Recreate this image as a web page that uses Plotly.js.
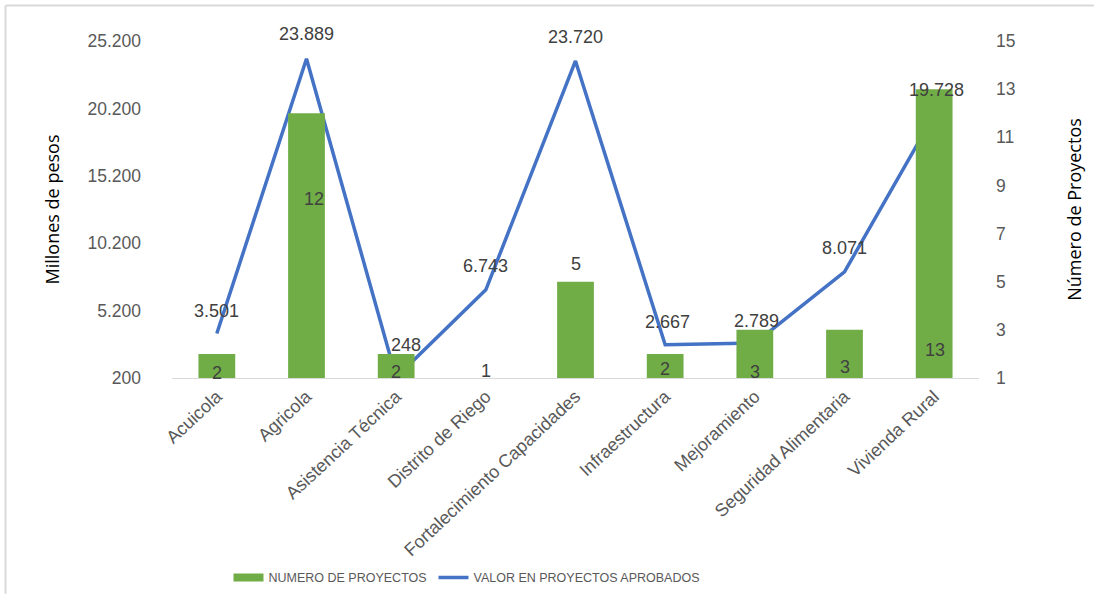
<!DOCTYPE html>
<html>
<head>
<meta charset="utf-8">
<script src="https://cdn.plot.ly/plotly-3.0.1.min.js"></script>
<style>html,body{margin:0;padding:0;background:#fff;}#chart{width:1094px;height:596px;}</style>
</head>
<body>
<div id="chart"></div>
<script>
// ---- data ----
const categories = ["Acuicola", "Agricola", "Asistencia Técnica", "Distrito de Riego",
  "Fortalecimiento Capacidades", "Infraestructura", "Mejoramiento",
  "Seguridad Alimentaria", "Vivienda Rural"];
const numeroProyectos = [2, 12, 2, 1, 5, 2, 3, 3, 13];
const valorProyectos = [3501, 23889, 248, 6743, 23720, 2667, 2789, 8071, 19728];
const leftTicks = [200, 5200, 10200, 15200, 20200, 25200];
const rightTicks = [1, 3, 5, 7, 9, 11, 13, 15];

// label placement (offsets, in px / right-axis units)
const lineLabelDy = [23, 25, 32, 24, 24, 23, 22, 24, 25];
const lineLabelDx = [0, 0, 10, 0, 0, 2, 2, 0, 2];
const barLabelY = [1.2, 8.45, 1.25, 1.3, 5.75, 1.37, 1.25, 1.46, 2.16];
const barLabelDx = [0, 7, 0, 0, 0, 0, 0, 0, 1];

const fmt = v => String(v).replace(/\B(?=(\d{3})+(?!\d))/g, ".");

const green = "#70AD47", blue = "#4472C4";
const labelFont = {family: "Liberation Sans, Arial, sans-serif", size: 18, color: "#404040"};
const tickFont = {family: "Liberation Sans, Arial, sans-serif", size: 17.5, color: "#595959"};
const xTickFont = {family: "Liberation Sans, Arial, sans-serif", size: 18, color: "#595959"};

const traces = [
  {type: "bar", x: categories, y: numeroProyectos, yaxis: "y2", marker: {color: green},
   width: 0.41, showlegend: false, hoverinfo: "skip"},
  {type: "scatter", mode: "lines", x: [null], y: [null], name: "NUMERO DE PROYECTOS",
   line: {color: green, width: 8}, yaxis: "y2", showlegend: true, legendwidth: 160},
  {type: "scatter", mode: "lines", x: categories, y: valorProyectos, name: "VALOR EN PROYECTOS APROBADOS",
   line: {color: blue, width: 3.5}, yaxis: "y", legendwidth: 260}
];

const annotations = [];
categories.forEach((c, i) => {
  annotations.push({x: c, y: valorProyectos[i], xref: "x", yref: "y", text: fmt(valorProyectos[i]),
    showarrow: false, yshift: lineLabelDy[i], xshift: lineLabelDx[i], font: labelFont});
  annotations.push({x: c, y: barLabelY[i], xref: "x", yref: "y2", text: String(numeroProyectos[i]),
    showarrow: false, xshift: barLabelDx[i], font: labelFont});
});

const layout = {
  width: 1094, height: 596,
  margin: {l: 172, r: 115, t: 41, b: 218, autoexpand: false},
  paper_bgcolor: "#fff", plot_bgcolor: "#fff",
  showlegend: true,
  legend: {orientation: "h", x: 0.07, xanchor: "left", y: -0.593, yanchor: "middle",
    font: {family: "Liberation Sans, Arial, sans-serif", size: 12.5, color: "#595959"},
    traceorder: "normal"},
  xaxis: {type: "category", range: [-0.5, 8.5], tickangle: -43, tickfont: xTickFont,
    showline: true, linecolor: "#d9d9d9", linewidth: 1, showgrid: false, zeroline: false,
    ticks: "", fixedrange: true},
  yaxis: {range: [200, 25200], tickvals: leftTicks, ticktext: leftTicks.map(fmt),
    tickfont: tickFont, showgrid: false, zeroline: false, showline: false, ticks: "",
    ticklabelstandoff: 30,
    title: {text: "Millones de pesos", font: {family: "Open Sans, sans-serif", size: 18, color: "#000"}, standoff: 23}},
  yaxis2: {range: [1, 15], overlaying: "y", side: "right", tickvals: rightTicks,
    tickfont: tickFont, showgrid: false, zeroline: false, showline: false, ticks: "",
    ticklabelstandoff: 16,
    title: {text: "Número de Proyectos", font: {family: "Open Sans, sans-serif", size: 18, color: "#000"}, standoff: 53}},
  annotations: annotations,
  shapes: [
    {type: "line", xref: "paper", yref: "paper", x0: -0.2063, x1: -0.2063, y0: -0.64, y1: 1.1053,
     line: {color: "#d9d9d9", width: 2}},
    {type: "line", xref: "paper", yref: "paper", x0: -0.2063, x1: 1.15, y0: 1.1053, y1: 1.1053,
     line: {color: "#d9d9d9", width: 2}}
  ]
};

Plotly.newPlot("chart", traces, layout, {displayModeBar: false, staticPlot: true});
</script>
</body>
</html>
